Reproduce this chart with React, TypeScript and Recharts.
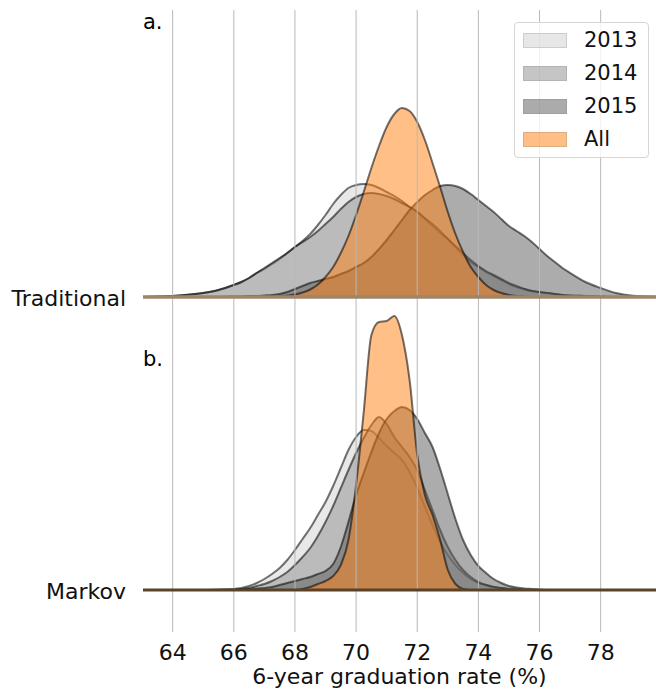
import React from "react";
import {
	ComposedChart,
	Area,
	XAxis,
	YAxis,
	ReferenceLine,
	Label,
} from "recharts";

// x grid: 6-year graduation rate (%)
const RATE = [
	63, 64, 65, 65.5, 66, 66.25, 66.5, 66.75, 67, 67.25, 67.5, 67.75, 68, 68.25,
	68.5, 68.75, 69, 69.25, 69.5, 69.75, 70, 70.25, 70.5, 70.75, 71, 71.25, 71.5,
	71.75, 72, 72.25, 72.5, 72.75, 73, 73.25, 73.5, 73.75, 74, 74.25, 74.5, 74.75,
	75, 75.25, 75.5, 75.75, 76, 76.25, 76.5, 76.75, 77, 77.5, 78, 78.5, 79, 80,
];

// densities, traditional model
const TRAD_2013 = [
	0, 0.002, 0.008, 0.014, 0.024, 0.03, 0.038, 0.048, 0.056, 0.066, 0.076, 0.088,
	0.1, 0.112, 0.126, 0.144, 0.164, 0.186, 0.204, 0.218, 0.224, 0.226, 0.224,
	0.218, 0.21, 0.202, 0.192, 0.18, 0.17, 0.156, 0.142, 0.128, 0.116, 0.1, 0.084,
	0.07, 0.06, 0.05, 0.042, 0.034, 0.026, 0.02, 0.016, 0.012, 0.01, 0.008, 0.006,
	0.004, 0.003, 0.002, 0.001, 0, 0, 0,
];
const TRAD_2014 = [
	0, 0.002, 0.008, 0.014, 0.024, 0.03, 0.038, 0.048, 0.058, 0.068, 0.078, 0.088,
	0.1, 0.11, 0.12, 0.132, 0.146, 0.16, 0.176, 0.19, 0.2, 0.206, 0.208, 0.206,
	0.202, 0.196, 0.188, 0.18, 0.17, 0.158, 0.146, 0.132, 0.116, 0.102, 0.088,
	0.074, 0.062, 0.052, 0.044, 0.036, 0.028, 0.022, 0.016, 0.012, 0.01, 0.008,
	0.006, 0.004, 0.003, 0.002, 0.001, 0, 0, 0,
];
const TRAD_2015 = [
	0, 0, 0, 0, 0.001, 0.001, 0.002, 0.002, 0.003, 0.004, 0.006, 0.01, 0.016,
	0.022, 0.028, 0.032, 0.036, 0.04, 0.046, 0.052, 0.06, 0.068, 0.08, 0.096,
	0.114, 0.134, 0.154, 0.174, 0.19, 0.204, 0.214, 0.222, 0.224, 0.222, 0.216,
	0.206, 0.194, 0.182, 0.17, 0.156, 0.142, 0.132, 0.122, 0.11, 0.096, 0.082,
	0.07, 0.058, 0.048, 0.03, 0.018, 0.008, 0.003, 0,
];
const TRAD_ALL = [
	0, 0, 0, 0, 0, 0, 0, 0, 0, 0.001, 0.001, 0.003, 0.005, 0.009, 0.015, 0.025,
	0.04, 0.06, 0.088, 0.122, 0.164, 0.21, 0.258, 0.302, 0.34, 0.366, 0.378,
	0.372, 0.35, 0.314, 0.268, 0.22, 0.17, 0.126, 0.09, 0.06, 0.04, 0.024, 0.014,
	0.008, 0.004, 0.002, 0.001, 0, 0, 0, 0, 0, 0, 0, 0, 0, 0, 0,
];

// densities, Markov model
const MARKOV_2013 = [
	0, 0, 0, 0.001, 0.002, 0.004, 0.008, 0.014, 0.022, 0.032, 0.044, 0.06, 0.08,
	0.102, 0.124, 0.15, 0.176, 0.208, 0.244, 0.28, 0.306, 0.32, 0.318, 0.304,
	0.288, 0.274, 0.26, 0.236, 0.204, 0.166, 0.13, 0.096, 0.07, 0.05, 0.034,
	0.022, 0.014, 0.01, 0.006, 0.004, 0.002, 0.001, 0, 0, 0, 0, 0, 0, 0, 0, 0, 0,
	0, 0,
];
const MARKOV_2014 = [
	0, 0, 0, 0, 0.001, 0.002, 0.004, 0.008, 0.012, 0.018, 0.026, 0.036, 0.05,
	0.066, 0.084, 0.108, 0.136, 0.168, 0.204, 0.24, 0.274, 0.304, 0.33, 0.346,
	0.332, 0.306, 0.286, 0.266, 0.24, 0.2, 0.16, 0.12, 0.086, 0.06, 0.04, 0.026,
	0.016, 0.01, 0.006, 0.004, 0.002, 0.001, 0, 0, 0, 0, 0, 0, 0, 0, 0, 0, 0, 0,
];
const MARKOV_2015 = [
	0, 0, 0, 0, 0, 0.001, 0.002, 0.003, 0.004, 0.006, 0.01, 0.014, 0.018, 0.022,
	0.026, 0.032, 0.038, 0.052, 0.086, 0.136, 0.19, 0.234, 0.276, 0.314, 0.342,
	0.358, 0.366, 0.36, 0.342, 0.314, 0.286, 0.242, 0.192, 0.142, 0.1, 0.07,
	0.048, 0.034, 0.022, 0.014, 0.008, 0.005, 0.003, 0.002, 0.001, 0, 0, 0, 0, 0,
	0, 0, 0, 0,
];
const MARKOV_ALL = [
	0, 0, 0, 0, 0, 0, 0, 0, 0, 0, 0, 0, 0, 0.002, 0.006, 0.012, 0.018, 0.028,
	0.05, 0.1, 0.21, 0.356, 0.51, 0.536, 0.538, 0.548, 0.51, 0.42, 0.27, 0.19,
	0.15, 0.1, 0.04, 0.012, 0.002, 0, 0, 0, 0, 0, 0, 0, 0, 0, 0, 0, 0, 0, 0, 0, 0,
	0, 0, 0,
];

const SERIES = ["2013", "2014", "2015", "All"];
const FILLS = ["#d1d1d1", "#8d8d8d", "#595959", "#ff7f0e"];
const TICKS = [64, 66, 68, 70, 72, 74, 76, 78];

// baseline of the upper (Traditional) ridge
const OFFSET = 0.586;

const data = RATE.map((rate, i) => ({
	rate,
	t2013: TRAD_2013[i],
	t2014: TRAD_2014[i],
	t2015: TRAD_2015[i],
	tAll: TRAD_ALL[i],
	m2013: MARKOV_2013[i],
	m2014: MARKOV_2014[i],
	m2015: MARKOV_2015[i],
	mAll: MARKOV_ALL[i],
}));

const areaStyle = {
	type: "monotone" as const,
	stroke: "#000",
	strokeOpacity: 0.55,
	strokeWidth: 2,
	fillOpacity: 0.5,
	dot: false,
	activeDot: false,
	isAnimationActive: false,
};

export default function App() {
	return (
		<div
			style={{
				position: "absolute",
				left: 0,
				top: 0,
				width: 656,
				height: 690,
				fontFamily: "DejaVu Sans",
			}}
		>
			<ComposedChart
				width={656}
				height={690}
				data={data}
				margin={{ top: 10, right: 0, bottom: 0, left: 0 }}
			>
				<XAxis
					dataKey="rate"
					type="number"
					domain={[63.03, 79.81]}
					allowDataOverflow
					ticks={TICKS}
					axisLine={false}
					tickLine={false}
					tickSize={0}
					tickMargin={12}
					height={58}
					tick={{ fontSize: 22, fill: "#111" }}
				>
					<Label
						value="6-year graduation rate (%)"
						position="insideBottom"
						offset={6}
						style={{ fontSize: 22, fill: "#111" }}
					/>
				</XAxis>
				<YAxis
					type="number"
					domain={[-0.084, 1.16]}
					allowDataOverflow
					ticks={[0, OFFSET]}
					tickFormatter={(v) => (v === 0 ? "Markov" : "Traditional")}
					axisLine={false}
					tickLine={false}
					tickSize={0}
					tickMargin={17}
					width={143}
					tick={{ fontSize: 22, fill: "#111", dy: 1 }}
				/>
				{TICKS.map((t) => (
					<ReferenceLine key={"g" + t} x={t} stroke="#b8b8b8" strokeWidth={1} />
				))}
				{SERIES.map((s, i) => (
					<Area
						key={"t" + s}
						{...areaStyle}
						name={s}
						dataKey={(d) => OFFSET + d["t" + s]}
						baseValue={OFFSET}
						fill={FILLS[i]}
					/>
				))}
				{SERIES.map((s, i) => (
					<Area
						key={"m" + s}
						{...areaStyle}
						name={s}
						dataKey={"m" + s}
						baseValue={0}
						fill={FILLS[i]}
					/>
				))}
				<ReferenceLine y={OFFSET} stroke="#a08468" strokeWidth={3.5} />
				<ReferenceLine y={0} stroke="#5b4128" strokeWidth={3} />
			</ComposedChart>

			<div style={{ position: "absolute", left: 143, top: 12, fontSize: 21, lineHeight: 1 }}>
				a.
			</div>
			<div style={{ position: "absolute", left: 143, top: 349, fontSize: 21, lineHeight: 1 }}>
				b.
			</div>

			<div
				style={{
					position: "absolute",
					left: 514,
					top: 22,
					width: 135,
					height: 136,
					boxSizing: "border-box",
					border: "1px solid #d6d6d6",
					borderRadius: 4,
					background: "rgba(255,255,255,0.8)",
				}}
			>
				{SERIES.map((s, i) => (
					<div
						key={s}
						style={{
							position: "absolute",
							left: 8,
							top: 7 + i * 33,
							height: 21,
							display: "flex",
							alignItems: "center",
							fontSize: 21,
							lineHeight: 1,
							color: "#111",
						}}
					>
						<span
							style={{
								display: "inline-block",
								width: 44,
								height: 15,
								background: FILLS[i],
								opacity: 0.5,
								boxSizing: "border-box",
								border: "1px solid rgba(0,0,0,0.25)",
								marginRight: 17,
							}}
						/>
						{s}
					</div>
				))}
			</div>
		</div>
	);
}
